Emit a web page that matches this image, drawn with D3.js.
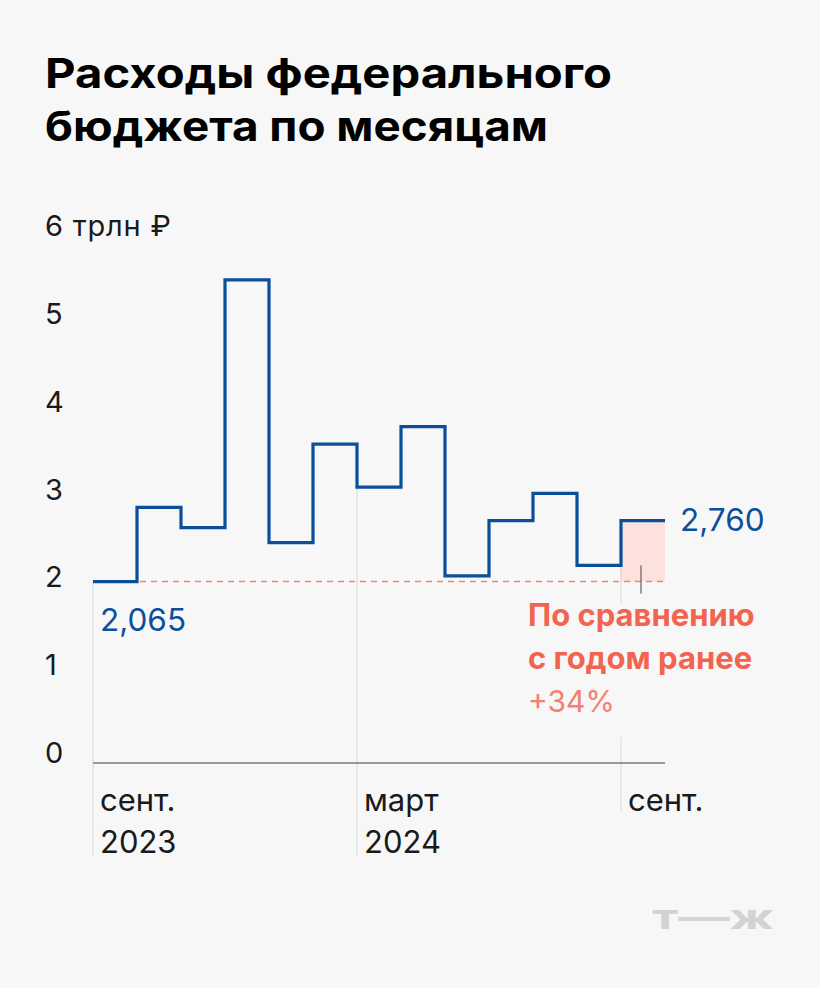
<!DOCTYPE html>
<html><head><meta charset="utf-8">
<script src="https://cdn.jsdelivr.net/npm/d3@7"></script>
<style>
html,body{margin:0;padding:0;background:#f7f7f7;}
text{font-family:Inter,Roboto,"Noto Sans",sans-serif;}
</style></head>
<body><div id="chart"></div>
<script>
// ---- data ----
const months = ["2023-09","2023-10","2023-11","2023-12","2024-01","2024-02","2024-03","2024-04","2024-05","2024-06","2024-07","2024-08","2024-09"];
const spending = [2.065, 2.91, 2.68, 5.50, 2.51, 3.63, 3.14, 3.83, 2.13, 2.76, 3.07, 2.25, 2.76]; // трлн ₽
const yTicks = [0, 1, 2, 3, 4, 5, 6];
const yTickLabels = ["0", "1", "2", "3", "4", "5", "6 трлн ₽"];
const xTickIndex = [0, 6, 12];
const xTickLine1 = ["сент.", "март", "сент."];
const xTickLine2 = ["2023", "2024", ""];
const titleLines = ["Расходы федерального", "бюджета по месяцам"];
const firstLabel = "2,065";
const lastLabel = "2,760";
const noteLines = ["По сравнению", "с годом ранее"];
const noteValue = "+34%";

// ---- layout ----
const W = 820, H = 988;
const blue = "#0b4f9c", coral = "#f2644f", coralLight = "#f4816f", bg = "#f7f7f7";
const svg = d3.select("#chart").append("svg").attr("width", W).attr("height", H);
svg.append("rect").attr("width", W).attr("height", H).attr("fill", bg);

const x = d3.scaleLinear().domain([0, months.length]).range([93, 665]);
const y = d3.scaleLinear().domain([0, 6]).range([763, 236]);

// title
const titleW = [567, 503];
svg.selectAll("text.title").data(titleLines).join("text")
  .attr("class", "title")
  .attr("x", 45).attr("y", (d, i) => 88 + i * 53)
  .attr("font-size", 41).attr("font-weight", 700).attr("fill", "#000")
  .attr("textLength", (d, i) => titleW[i]).attr("lengthAdjust", "spacingAndGlyphs")
  .text(d => d);

// y tick labels
svg.selectAll("text.ytick").data(yTicks).join("text")
  .attr("class", "ytick")
  .attr("x", 45).attr("y", d => y(d))
  .attr("font-size", 29).attr("letter-spacing", 0.8).attr("fill", "#1a1a1a")
  .text((d, i) => yTickLabels[i]);

// vertical grid lines
svg.selectAll("line.vgrid").data(xTickIndex).join("line")
  .attr("class", "vgrid")
  .attr("x1", d => x(d)).attr("x2", d => x(d))
  .attr("y1", d => y(spending[d]))
  .attr("y2", (d, i) => xTickLine2[i] ? 856 : 811)
  .attr("stroke", "#dedede").attr("stroke-width", 1.2);

// pink comparison area (last month vs first month)
const last = spending.length - 1;
svg.append("rect")
  .attr("x", x(last)).attr("width", x(last + 1) - x(last))
  .attr("y", y(spending[last])).attr("height", y(spending[0]) - y(spending[last]))
  .attr("fill", "#fde1dc");
svg.append("line")
  .attr("x1", x(last)).attr("x2", x(last))
  .attr("y1", y(spending[last])).attr("y2", y(spending[0]))
  .attr("stroke", "#e6d3d0").attr("stroke-width", 1.2);

// dashed reference line at first month's level
svg.append("line")
  .attr("x1", x(1) + 3).attr("x2", x(months.length))
  .attr("y1", y(spending[0])).attr("y2", y(spending[0]))
  .attr("stroke", "#ef8272").attr("stroke-width", 1.5)
  .attr("stroke-dasharray", "6,5");

// small tick in the comparison area
const mid = (x(last) + x(last + 1)) / 2 - 2;
svg.append("line")
  .attr("x1", mid).attr("x2", mid)
  .attr("y1", y(spending[last - 1])).attr("y2", y(spending[0]) + 12)
  .attr("stroke", "#444").attr("stroke-width", 1);

// x axis baseline
svg.append("line")
  .attr("x1", x(0)).attr("x2", x(months.length))
  .attr("y1", y(0)).attr("y2", y(0))
  .attr("stroke", "#7a7a7a").attr("stroke-width", 1.5);

// step line
const pts = spending.map((v, i) => [i, v]);
pts.push([months.length, spending[last]]);
const line = d3.line().x(d => x(d[0])).y(d => y(d[1])).curve(d3.curveStepAfter);
svg.append("path").datum(pts)
  .attr("d", line).attr("fill", "none")
  .attr("stroke", blue).attr("stroke-width", 3.2)
  .attr("stroke-linejoin", "miter").attr("stroke-linecap", "butt");

// value labels
svg.append("text")
  .attr("x", x(0) + 7).attr("y", y(spending[0]) + 49)
  .attr("font-size", 31.5).attr("fill", blue).text(firstLabel);
svg.append("text")
  .attr("x", x(months.length) + 15).attr("y", y(spending[last]) + 10)
  .attr("font-size", 31.5).attr("fill", blue).text(lastLabel);

// annotation with background
svg.append("rect").attr("x", 522).attr("y", 603).attr("width", 245).attr("height", 134).attr("fill", bg);
svg.selectAll("text.note").data(noteLines).join("text")
  .attr("class", "note")
  .attr("x", 528).attr("y", (d, i) => 626 + i * 43)
  .attr("font-size", 31).attr("font-weight", 700).attr("fill", coral)
  .text(d => d);
svg.append("text")
  .attr("x", 528).attr("y", 712)
  .attr("font-size", 30).attr("fill", coralLight).text(noteValue);

// x tick labels
xTickIndex.forEach((idx, i) => {
  svg.append("text").attr("x", x(idx) + 7).attr("y", 811)
    .attr("font-size", 31).attr("fill", "#1a1a1a").text(xTickLine1[i]);
  if (xTickLine2[i]) {
    svg.append("text").attr("x", x(idx) + 7).attr("y", 853)
      .attr("font-size", 31).attr("fill", "#1a1a1a").text(xTickLine2[i]);
  }
});

// logo
svg.append("text").attr("x", 652).attr("y", 929)
  .attr("font-size", 34).attr("font-weight", 700).attr("fill", "#d3d3d3")
  .attr("textLength", 122).attr("lengthAdjust", "spacingAndGlyphs")
  .text("т—ж");
</script></body></html>
